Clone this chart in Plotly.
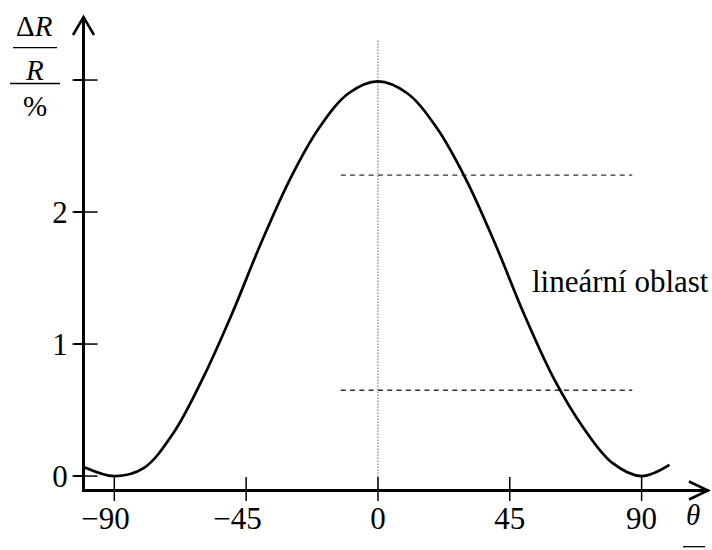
import plotly.graph_objects as go

# Relative change of resistance vs. angle between current and magnetisation
theta = [-100, -90, -80, -70, -60, -50, -40, -30, -20, -10, 0,
         10, 20, 30, 40, 50, 60, 70, 80, 90, 99.5]
dR_over_R = [0.065, 0.0, 0.06, 0.32, 0.73, 1.22, 1.76, 2.25, 2.64, 2.90, 2.99,
             2.90, 2.64, 2.25, 1.76, 1.22, 0.74, 0.37, 0.10, 0.0, 0.085]

x_ticks = [-90, -45, 0, 45, 90]
x_tick_labels = ["−90", "−45", "0", "45", "90"]
y_ticks = [0, 1, 2, 3]
y_tick_labels = ["0", "1", "2", ""]

# bounds of the linear region (dashed guides)
lin_levels = [0.65, 2.28]
lin_theta = [-12.7, 86.8]
region_label = "lineární oblast"
center_line_top = 3.30

FONT = "Liberation Serif"
W, H = 712, 550
ML, MR, MT, MB = 85, 3, 18, 61
X_RANGE = [-100.0, 113.0]
Y_RANGE = [-0.098, 3.470]


def px(x):
    return (x - ML) / (W - ML - MR)


def py(y):
    return (H - MB - y) / (H - MT - MB)


def hang_minus(lbl):
    # keep the digits centred on the tick, minus sign hangs to the left
    if lbl.startswith("−"):
        return lbl + "<span style='color:rgba(0,0,0,0)'>−</span>"
    return lbl


def vee(points):
    # open arrow head drawn as a two-segment path in paper coordinates
    (x0, y0), (x1, y1), (x2, y2) = [(px(a), py(b)) for a, b in points]
    return f"M {x0},{y0} L {x1},{y1} L {x2},{y2}"


fig = go.Figure()

fig.add_trace(go.Scatter(
    x=[0, 0], y=[center_line_top, Y_RANGE[0]], mode="lines",
    line=dict(color="#808080", width=1.2, dash="1.5px,1.5px"),
    hoverinfo="skip"))

for lvl in lin_levels:
    fig.add_trace(go.Scatter(
        x=lin_theta, y=[lvl, lvl], mode="lines",
        line=dict(color="#333333", width=1.3, dash="5px,4.3px"),
        hoverinfo="skip"))

fig.add_trace(go.Scatter(
    x=theta, y=dR_over_R, mode="lines",
    line=dict(color="black", width=2.7, shape="spline", smoothing=1.0),
    hoverinfo="skip"))

# tick marks crossing the axis lines
fig.add_trace(go.Scatter(
    x=x_ticks, y=[Y_RANGE[0]] * len(x_ticks), mode="markers",
    marker=dict(symbol="line-ns", size=17, line=dict(width=1.5, color="black")),
    cliponaxis=False, hoverinfo="skip"))
fig.add_trace(go.Scatter(
    x=[X_RANGE[0]] * len(y_ticks), y=y_ticks, mode="markers",
    marker=dict(symbol="line-ew", size=18, line=dict(width=1.5, color="black")),
    cliponaxis=False, hoverinfo="skip"))

axis_common = dict(
    showline=True, linewidth=3, linecolor="black",
    showgrid=False, zeroline=False,
    tickfont=dict(family=FONT, size=31, color="black"),
    automargin=False,
)

fig.update_layout(
    width=W, height=H,
    margin=dict(l=ML, r=MR, t=MT, b=MB),
    paper_bgcolor="white", plot_bgcolor="white",
    showlegend=False,
    xaxis=dict(range=X_RANGE, tickvals=x_ticks, ticks="",
               ticktext=[hang_minus(t) for t in x_tick_labels], **axis_common),
    yaxis=dict(range=Y_RANGE, tickvals=y_ticks, ticktext=y_tick_labels,
               ticks="outside", ticklen=8, tickwidth=1.5, tickcolor="black",
               **axis_common),
)

# open arrow heads at the axis ends
arrow_line = dict(color="black", width=2.5)
fig.add_shape(type="path", xref="paper", yref="paper",
              path=vee([(73, 35), (83.5, 17), (94, 35)]), line=arrow_line)
fig.add_shape(type="path", xref="paper", yref="paper",
              path=vee([(689, 481.5), (708, 490.5), (689, 499.5)]),
              line=arrow_line)

# axis quantity labels written as fractions
frac_font = dict(family=FONT, size=29, color="black")
fig.add_annotation(text="Δ<i>R</i>", xref="paper", yref="paper",
                   x=px(34.5), y=py(26), xanchor="center", yanchor="middle",
                   showarrow=False, font=frac_font)
fig.add_annotation(text="<i>R</i>", xref="paper", yref="paper",
                   x=px(34), y=py(70), xanchor="center", yanchor="middle",
                   showarrow=False, font=frac_font)
fig.add_annotation(text="%", xref="paper", yref="paper",
                   x=px(35), y=py(106), xanchor="center", yanchor="middle",
                   showarrow=False, font=frac_font)
fig.add_shape(type="line", xref="paper", yref="paper",
              x0=px(13), x1=px(57), y0=py(47.7), y1=py(47.7),
              line=dict(color="black", width=1.3))
fig.add_shape(type="line", xref="paper", yref="paper",
              x0=px(10), x1=px(60), y0=py(83.5), y1=py(83.5),
              line=dict(color="black", width=1.3))

fig.add_annotation(text="<i>θ</i>", xref="paper", yref="paper",
                   x=px(693), y=py(515), xanchor="center", yanchor="middle",
                   showarrow=False, font=frac_font)
fig.add_shape(type="line", xref="paper", yref="paper",
              x0=px(683), x1=px(705), y0=py(546.7), y1=py(546.7),
              line=dict(color="black", width=1.3))
fig.add_annotation(text="°", xref="paper", yref="paper",
                   x=px(694), y=py(566), xanchor="center", yanchor="middle",
                   showarrow=False, font=frac_font)

fig.add_annotation(text=region_label, x=51.9, y=1.477,
                   xanchor="left", yanchor="middle", showarrow=False,
                   font=dict(family=FONT, size=31, color="black"))

fig.write_html("out.html")
